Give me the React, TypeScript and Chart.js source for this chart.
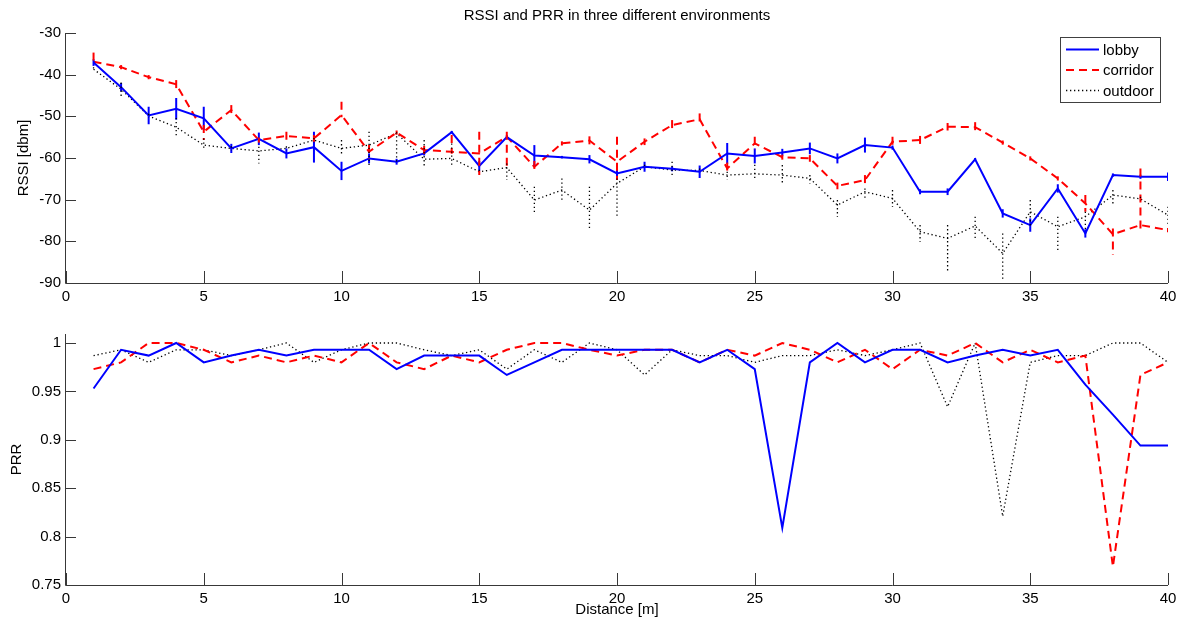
import React, { useEffect, useRef } from 'react';
import { Chart, registerables } from 'chart.js';

Chart.register(...registerables);

const FONT = '"Liberation Sans", Arial, Helvetica, sans-serif';

// ---------- DATA ----------
const distance = [1, 2, 3, 4, 5, 6, 7, 8, 9, 10, 11, 12, 13, 14, 15, 16, 17, 18, 19, 20,
  21, 22, 23, 24, 25, 26, 27, 28, 29, 30, 31, 32, 33, 34, 35, 36, 37, 38, 39, 40];

const xTicks = [0, 5, 10, 15, 20, 25, 30, 35, 40];
const rssiTicks = [-90, -80, -70, -60, -50, -40, -30];
const prrTicks = [0.75, 0.8, 0.85, 0.9, 0.95, 1];
const prrTickLabels = ['0.75', '0.8', '0.85', '0.9', '0.95', '1'];

const seriesNames = ['lobby', 'corridor', 'outdoor'];

const lobbyRssi = [-37.1, -43.0, -49.8, -48.2, -50.5, -57.7, -55.4, -58.9, -57.4, -63.1,
  -60.1, -60.9, -58.9, -53.8, -61.9, -55.0, -59.4, -59.8, -60.3, -63.7,
  -62.1, -62.6, -63.3, -58.9, -59.5, -58.7, -57.7, -60.1, -56.9, -57.5,
  -68.1, -68.1, -60.3, -73.3, -76.1, -67.3, -78.1, -64.1, -64.5, -64.5];
const lobbyErr = [0.8, 1.0, 2.1, 2.6, 2.8, 1.1, 1.5, 1.2, 3.7, 2.2,
  1.2, 0.7, 0.5, 0.3, 1.2, 0.5, 2.5, 0.3, 1.0, 1.0,
  1.2, 0.6, 1.5, 2.5, 1.8, 0.9, 1.4, 1.2, 1.8, 0.5,
  0.6, 0.8, 0.3, 1.0, 1.6, 1.0, 1.0, 0.4, 0.5, 1.0];

const corridorRssi = [-36.9, -38.2, -40.6, -42.3, -53.7, -48.5, -55.7, -54.7, -55.3, -49.7,
  -58.5, -53.9, -58.1, -58.5, -58.9, -54.9, -62.1, -56.5, -55.8, -60.9,
  -56.1, -52.1, -50.7, -62.5, -56.5, -59.8, -60.1, -66.7, -65.3, -56.1,
  -55.7, -52.5, -52.6, -56.3, -60.1, -64.9, -70.9, -78.3, -76.1, -77.3];
const corridorErrUp = [2.2, 0.5, 0.5, 1.0, 1.6, 1.2, 0.6, 1.0, 0.8, 3.2,
  1.6, 0.5, 1.0, 4.0, 5.2, 1.2, 1.4, 0.5, 1.0, 6.0,
  0.8, 1.2, 1.4, 1.4, 1.6, 0.6, 0.8, 0.8, 1.2, 1.2,
  1.0, 0.9, 1.2, 0.5, 0.5, 0.5, 2.0, 1.4, 13.6, 0.5];
const corridorErrDown = [0.3, 0.5, 0.5, 1.0, 2.0, 1.2, 0.6, 1.0, 0.8, 0.5,
  1.6, 0.5, 1.0, 0.5, 5.2, 8.0, 1.4, 0.5, 1.0, 4.4,
  0.8, 1.2, 1.4, 1.4, 1.6, 0.6, 0.8, 0.8, 1.2, 1.2,
  1.0, 0.9, 1.2, 0.5, 0.5, 0.5, 2.0, 5.0, 1.2, 0.5];

const outdoorRssi = [-38.7, -43.5, -49.9, -52.6, -56.9, -57.7, -58.3, -57.7, -55.7, -57.7,
  -56.9, -54.1, -60.3, -60.1, -63.3, -62.3, -70.1, -67.7, -72.5, -66.1,
  -62.1, -62.9, -63.0, -64.1, -63.8, -64.1, -64.9, -71.3, -68.1, -69.7,
  -77.7, -79.3, -76.3, -82.9, -72.9, -76.5, -74.1, -68.9, -69.8, -73.7];
const outdoorErrUp = [0.5, 1.6, 0.5, 2.2, 1.6, 0.5, 1.0, 0.5, 0.5, 2.0,
  3.2, 0.3, 4.6, 3.6, 0.5, 1.0, 3.2, 2.8, 5.6, 1.2,
  0.5, 2.0, 0.5, 0.8, 2.2, 2.4, 0.8, 1.2, 0.8, 2.0,
  1.6, 3.2, 2.2, 4.8, 2.8, 2.4, 1.2, 1.2, 0.5, 2.0];
const outdoorErrDown = [0.5, 1.6, 0.5, 2.2, 1.2, 0.5, 3.0, 0.5, 0.5, 1.2,
  5.2, 6.8, 1.8, 2.0, 0.5, 3.0, 3.2, 2.4, 4.8, 8.0,
  0.5, 1.6, 0.5, 1.2, 1.4, 2.0, 1.2, 2.8, 2.0, 2.0,
  2.4, 8.0, 3.4, 6.4, 3.6, 6.0, 3.2, 2.0, 0.5, 2.4];

const lobbyPrr = [0.953, 0.993, 0.987, 1.0, 0.98, 0.987, 0.993, 0.987, 0.993, 0.993,
  0.993, 0.973, 0.987, 0.987, 0.987, 0.967, 0.98, 0.993, 0.993, 0.993,
  0.993, 0.993, 0.98, 0.993, 0.973, 0.809, 0.98, 1.0, 0.98, 0.993,
  0.993, 0.98, 0.987, 0.993, 0.987, 0.993, 0.957, 0.926, 0.894, 0.894];
const corridorPrr = [0.973, 0.98, 1.0, 1.0, 0.993, 0.98, 0.987, 0.98, 0.987, 0.98,
  1.0, 0.98, 0.973, 0.987, 0.98, 0.993, 1.0, 1.0, 0.993, 0.987,
  0.993, 0.993, 0.98, 0.993, 0.987, 1.0, 0.993, 0.98, 0.993, 0.973,
  0.993, 0.987, 1.0, 0.98, 0.993, 0.98, 0.987, 0.769, 0.967, 0.98];
const outdoorPrr = [0.987, 0.993, 0.98, 0.993, 0.993, 0.987, 0.993, 1.0, 0.98, 0.993,
  1.0, 1.0, 0.993, 0.987, 0.993, 0.973, 0.993, 0.98, 1.0, 0.993,
  0.967, 0.993, 0.987, 0.987, 0.98, 0.987, 0.987, 0.993, 0.987, 0.993,
  1.0, 0.934, 1.0, 0.821, 0.98, 0.987, 0.987, 1.0, 1.0, 0.98];

// ---------- STYLES ----------
const styles = [
  { color: '#0000ff', width: 2, dash: [] as number[] },
  { color: '#ff0000', width: 2, dash: [8, 5] },
  { color: '#000000', width: 1.3, dash: [1.3, 2.7] },
];

const pts = (ys: number[]) => distance.map((d, i) => ({ x: d, y: ys[i] }));

const matlabPlugin = {
  id: 'matlab',
  beforeDatasetsDraw(chart: any) {
    const { ctx, chartArea, scales } = chart;
    const { left, right, top, bottom } = chartArea;
    const x = scales.x, y = scales.y;
    ctx.save();
    ctx.strokeStyle = '#383838';
    ctx.lineWidth = 1;
    ctx.setLineDash([]);
    ctx.beginPath();
    ctx.moveTo(left - 0.5, top);
    ctx.lineTo(left - 0.5, bottom + 0.5);
    ctx.lineTo(right, bottom + 0.5);
    x.ticks.forEach((t: any) => {
      const px = Math.round(x.getPixelForValue(t.value)) + 0.5;
      ctx.moveTo(px, bottom);
      ctx.lineTo(px, bottom - 12);
    });
    y.ticks.forEach((t: any) => {
      const py = Math.round(y.getPixelForValue(t.value)) + 0.5;
      ctx.moveTo(left, py);
      ctx.lineTo(left + 10, py);
    });
    ctx.stroke();
    ctx.restore();
  },
  afterDatasetsDraw(chart: any) {
    const { ctx, chartArea, scales } = chart;
    const x = scales.x, y = scales.y;
    chart.data.datasets.forEach((ds: any) => {
      if (!ds.errUp) return;
      ctx.save();
      ctx.beginPath();
      ctx.rect(chartArea.left, chartArea.top, chartArea.right - chartArea.left, chartArea.bottom - chartArea.top);
      ctx.clip();
      ctx.strokeStyle = ds.borderColor;
      ctx.lineWidth = ds.borderWidth;
      ctx.setLineDash(ds.borderDash || []);
      ds.data.forEach((p: any, j: number) => {
        const px = x.getPixelForValue(p.x);
        ctx.beginPath();
        ctx.moveTo(px, y.getPixelForValue(p.y + ds.errUp[j]));
        ctx.lineTo(px, y.getPixelForValue(p.y - ds.errDown[j]));
        ctx.stroke();
      });
      ctx.restore();
    });
  },
  afterDraw(chart: any, _args: any, opts: any) {
    const { ctx, chartArea } = chart;
    const cx = (chartArea.left + chartArea.right) / 2;
    ctx.save();
    ctx.fillStyle = '#000';
    ctx.textAlign = 'center';
    ctx.textBaseline = 'middle';
    if (opts.title) {
      ctx.font = `15px ${FONT}`;
      ctx.fillText(opts.title, cx, chartArea.top - 17);
    }
    if (opts.xLabel) {
      ctx.font = `15px ${FONT}`;
      ctx.fillText(opts.xLabel, cx, chartArea.bottom + 25);
    }
    if (opts.yLabel) {
      ctx.save();
      ctx.font = `15px ${FONT}`;
      ctx.translate(opts.yLabelX, (chartArea.top + chartArea.bottom) / 2);
      ctx.rotate(-Math.PI / 2);
      ctx.fillText(opts.yLabel, 0, 0);
      ctx.restore();
    }
    if (opts.legend) {
      const lw = 100, lh = 65;
      const lx = chartArea.right - 8 - lw;
      const ly = chartArea.top + 4;
      ctx.fillStyle = '#fff';
      ctx.fillRect(lx, ly, lw, lh);
      ctx.strokeStyle = '#404040';
      ctx.lineWidth = 1;
      ctx.setLineDash([]);
      ctx.strokeRect(lx + 0.5, ly + 0.5, lw, lh);
      chart.data.datasets.forEach((ds: any, i: number) => {
        const yy = ly + 12.5 + i * 20.5;
        ctx.strokeStyle = ds.borderColor;
        ctx.lineWidth = ds.borderWidth;
        ctx.setLineDash(ds.borderDash || []);
        ctx.beginPath();
        ctx.moveTo(lx + 6, yy);
        ctx.lineTo(lx + 39, yy);
        ctx.stroke();
        ctx.fillStyle = '#000';
        ctx.font = `15px ${FONT}`;
        ctx.textAlign = 'left';
        ctx.fillText(ds.label, lx + 43, yy + 1);
      });
    }
    ctx.restore();
  },
};

const tickFont = { family: FONT, size: 15 };

function xScale(height: number) {
  return {
    type: 'linear' as const,
    min: 0,
    max: 40,
    afterBuildTicks: (s: any) => { s.ticks = xTicks.map((v) => ({ value: v })); },
    afterFit: (s: any) => { s.height = height; },
    grid: { display: false, drawTicks: false },
    border: { display: false },
    ticks: { font: tickFont, color: '#000', padding: 5, maxRotation: 0, autoSkip: false, callback: (v: any) => String(v) },
  };
}

export default function App() {
  const topRef = useRef<HTMLCanvasElement>(null);
  const botRef = useRef<HTMLCanvasElement>(null);

  useEffect(() => {
    const rssiSets = [
      { data: pts(lobbyRssi), errUp: lobbyErr, errDown: lobbyErr },
      { data: pts(corridorRssi), errUp: corridorErrUp, errDown: corridorErrDown },
      { data: pts(outdoorRssi), errUp: outdoorErrUp, errDown: outdoorErrDown },
    ].map((d, i) => ({
      ...d,
      label: seriesNames[i],
      borderColor: styles[i].color,
      backgroundColor: styles[i].color,
      borderWidth: styles[i].width,
      borderDash: styles[i].dash,
      pointRadius: 0,
      tension: 0,
      fill: false,
    }));

    const prrSets = [lobbyPrr, corridorPrr, outdoorPrr].map((vals, i) => ({
      data: pts(vals),
      label: seriesNames[i],
      borderColor: styles[i].color,
      backgroundColor: styles[i].color,
      borderWidth: styles[i].width,
      borderDash: styles[i].dash,
      pointRadius: 0,
      tension: 0,
      fill: false,
    }));

    const common = {
      responsive: false,
      animation: false as const,
      devicePixelRatio: 1,
      events: [] as any[],
    };

    const top = new Chart(topRef.current!, {
      type: 'line',
      data: { datasets: rssiSets as any },
      options: {
        ...common,
        layout: { padding: { top: 33, right: 16, bottom: 0, left: 0 } },
        plugins: {
          legend: { display: false },
          tooltip: { enabled: false },
          matlab: {
            title: 'RSSI and PRR in three different environments',
            yLabel: 'RSSI [dbm]',
            yLabelX: 24,
            legend: true,
          },
        } as any,
        scales: {
          x: xScale(27),
          y: {
            type: 'linear',
            min: -90,
            max: -30,
            afterBuildTicks: (s: any) => { s.ticks = rssiTicks.map((v) => ({ value: v })); },
            afterFit: (s: any) => { s.width = 66; },
            grid: { display: false, drawTicks: false },
            border: { display: false },
            ticks: { font: tickFont, color: '#000', padding: 5, callback: (v: any) => String(v) },
          },
        } as any,
      },
      plugins: [matlabPlugin],
    });

    const bot = new Chart(botRef.current!, {
      type: 'line',
      data: { datasets: prrSets as any },
      options: {
        ...common,
        layout: { padding: { top: 24, right: 16, bottom: 0, left: 0 } },
        plugins: {
          legend: { display: false },
          tooltip: { enabled: false },
          matlab: {
            xLabel: 'Distance [m]',
            yLabel: 'PRR',
            yLabelX: 17,
            legend: false,
          },
        } as any,
        scales: {
          x: xScale(39),
          y: {
            type: 'linear',
            min: 0.75,
            max: 1.0093,
            afterBuildTicks: (s: any) => { s.ticks = prrTicks.map((v) => ({ value: v })); },
            afterFit: (s: any) => { s.width = 66; },
            grid: { display: false, drawTicks: false },
            border: { display: false },
            ticks: {
              font: tickFont,
              color: '#000',
              padding: 5,
              callback: (_v: any, i: number) => prrTickLabels[i],
            },
          },
        } as any,
      },
      plugins: [matlabPlugin],
    });

    return () => {
      top.destroy();
      bot.destroy();
    };
  }, []);

  return (
    <div style={{ position: 'fixed', left: 0, top: 0, width: 1184, height: 624, background: '#fff' }}>
      <canvas
        ref={topRef}
        width={1184}
        height={310}
        style={{ position: 'absolute', left: 0, top: 0, width: 1184, height: 310 }}
      />
      <canvas
        ref={botRef}
        width={1184}
        height={314}
        style={{ position: 'absolute', left: 0, top: 310, width: 1184, height: 314 }}
      />
    </div>
  );
}
